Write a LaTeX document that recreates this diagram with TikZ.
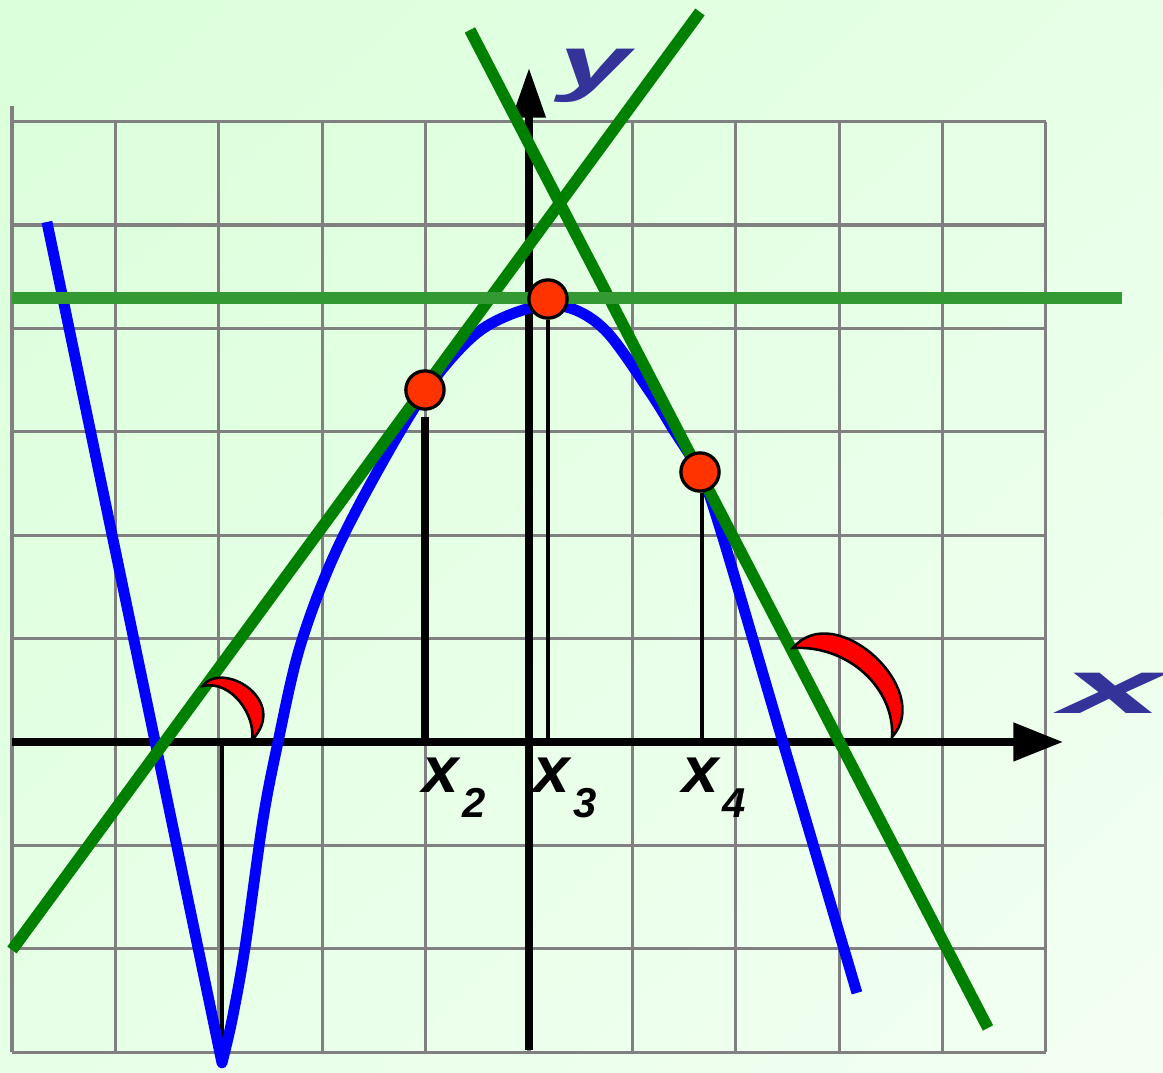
\documentclass[tikz,border=0pt]{standalone}
\usepackage{fontspec}
\newfontfamily\lblfont{Liberation Sans}
\usetikzlibrary{arrows.meta, shadings}
\definecolor{bgtop}{RGB}{218,255,218}
\definecolor{bgbot}{RGB}{243,255,243}
\definecolor{tanline}{RGB}{0,128,0}
\definecolor{flatline}{RGB}{51,153,51}
\definecolor{dotred}{RGB}{255,51,0}
\definecolor{axisblue}{RGB}{51,51,153}
\begin{document}
\begin{tikzpicture}[
	tangent/.style={tanline, line width=3.2pt},
	stem/.style={black, line width=1.1pt},
	dot/.style={circle, fill=dotred, draw=black, line width=0.9pt, minimum size=0.37cm, inner sep=0},
	xlab/.style={anchor=base west, inner sep=0, font=\fontsize{18}{18}\selectfont\lblfont\bfseries\itshape},
	axlab/.style={inner sep=0, text=axisblue, font=\fontsize{20}{20}\selectfont\lblfont\bfseries\itshape},
	crescent/.style={fill=red, draw=black, line width=0.7pt}]
	\useasboundingbox (-5.116,-3.201) rectangle (6.132,7.176);
	\shade[upper left=bgtop, lower right=bgbot, upper right=bgtop!50!bgbot, lower left=bgtop!50!bgbot] (-5.116,-3.201) rectangle (6.132,7.176);
	\coordinate (O) at (0,0); \coordinate (M) at (-2.969,0);
	\coordinate (L1a) at (-5,-2.012); \coordinate (L1b) at (1.654,7.060);
	\coordinate (L2a) at (-0.571,6.886); \coordinate (L2b) at (4.439,-2.766);
	\coordinate (L3a) at (-5,4.294); \coordinate (L3b) at (5.735,4.294);
	\draw[gray, line width=0.85pt] (-5,-3) grid (5,6) (-5,6) -- (-5,6.15);
	\draw[line width=2pt, -{Triangle[length=0.48cm, width=0.36cm]}] (-5,0) -- (5.164,0);
	\draw[line width=2pt, -{Triangle[length=0.48cm, width=0.31cm]}] (0,-2.98) -- (0,6.518);
	\draw[stem] (M) -- (M |- 0,-2.98);
	\draw[blue, line width=3pt, line join=round] (-4.662,5.029) -- plot[smooth, tension=0.55] coordinates {
		(-2.969,-3.104) (-2.872,-2.689) (-2.747,-1.992) (-2.573,-0.754) (-2.427,0)
		(-2.224,0.890) (-1.925,1.712) (-1.538,2.486) (-1.006,3.385) (-0.503,3.956)
		(0.010,4.197) (0.397,4.197) (0.754,3.965) (1.170,3.385) (1.393,3.027) (1.654,2.600)
		(1.850,2.060) (2.456,0) (3.172,-2.427)};
	\draw[tangent] (L1a) -- (L1b);
	\draw[tangent] (L2a) -- (L2b);
	\draw[flatline, line width=3.2pt] (L3a) -- (L3b);
	\draw[crescent] (-3.153,0.542) .. controls (-2.969,0.793) and (-2.311,0.406) .. (-2.679,0.019)
		.. controls (-2.64,0.25) and (-2.872,0.600) .. cycle;
	\draw[crescent] (2.553,0.909) .. controls (2.959,1.393) and (3.927,0.503) .. (3.511,0.048)
		.. controls (3.540,0.503) and (3.104,0.938) .. cycle;
	\node[dot] (P2) at (-1.006,3.404) {};
	\node[dot] (P3) at (0.184,4.284) {};
	\node[dot] (P4) at (1.654,2.611) {};
	\draw[stem, line width=2pt] ([yshift=-0.06cm]P2.south) -- (P2.south |- O);
	\draw[stem, line width=1.2pt] (P3.south) -- (P3.south |- O);
	\draw[stem] ([xshift=0.02cm]P4.south) -- ([xshift=0.02cm]P4.south |- O);
	\node[xlab] (lx2) at (-1.035,-0.484) {x\kern1pt\raisebox{-6.9pt}{\fontsize{11.5}{12}\selectfont 2}};
	\node[xlab] (lx3) at (0.039,-0.484) {x\kern1pt\raisebox{-6.9pt}{\fontsize{11.5}{12}\selectfont 3}};
	\node[xlab] (lx4) at (1.480,-0.484) {x\kern1pt\raisebox{-6.9pt}{\fontsize{11.5}{12}\selectfont 4}};
	\node[axlab] (ylab) at (0.638,6.441) {\scalebox{1.75}[1]{y}};
	\node[axlab, font=\fontsize{21}{21}\selectfont\lblfont\bfseries\itshape] (xlabel) at (5.640,0.474) {\scalebox{2.4}[1]{x}};
\end{tikzpicture}
\end{document}
